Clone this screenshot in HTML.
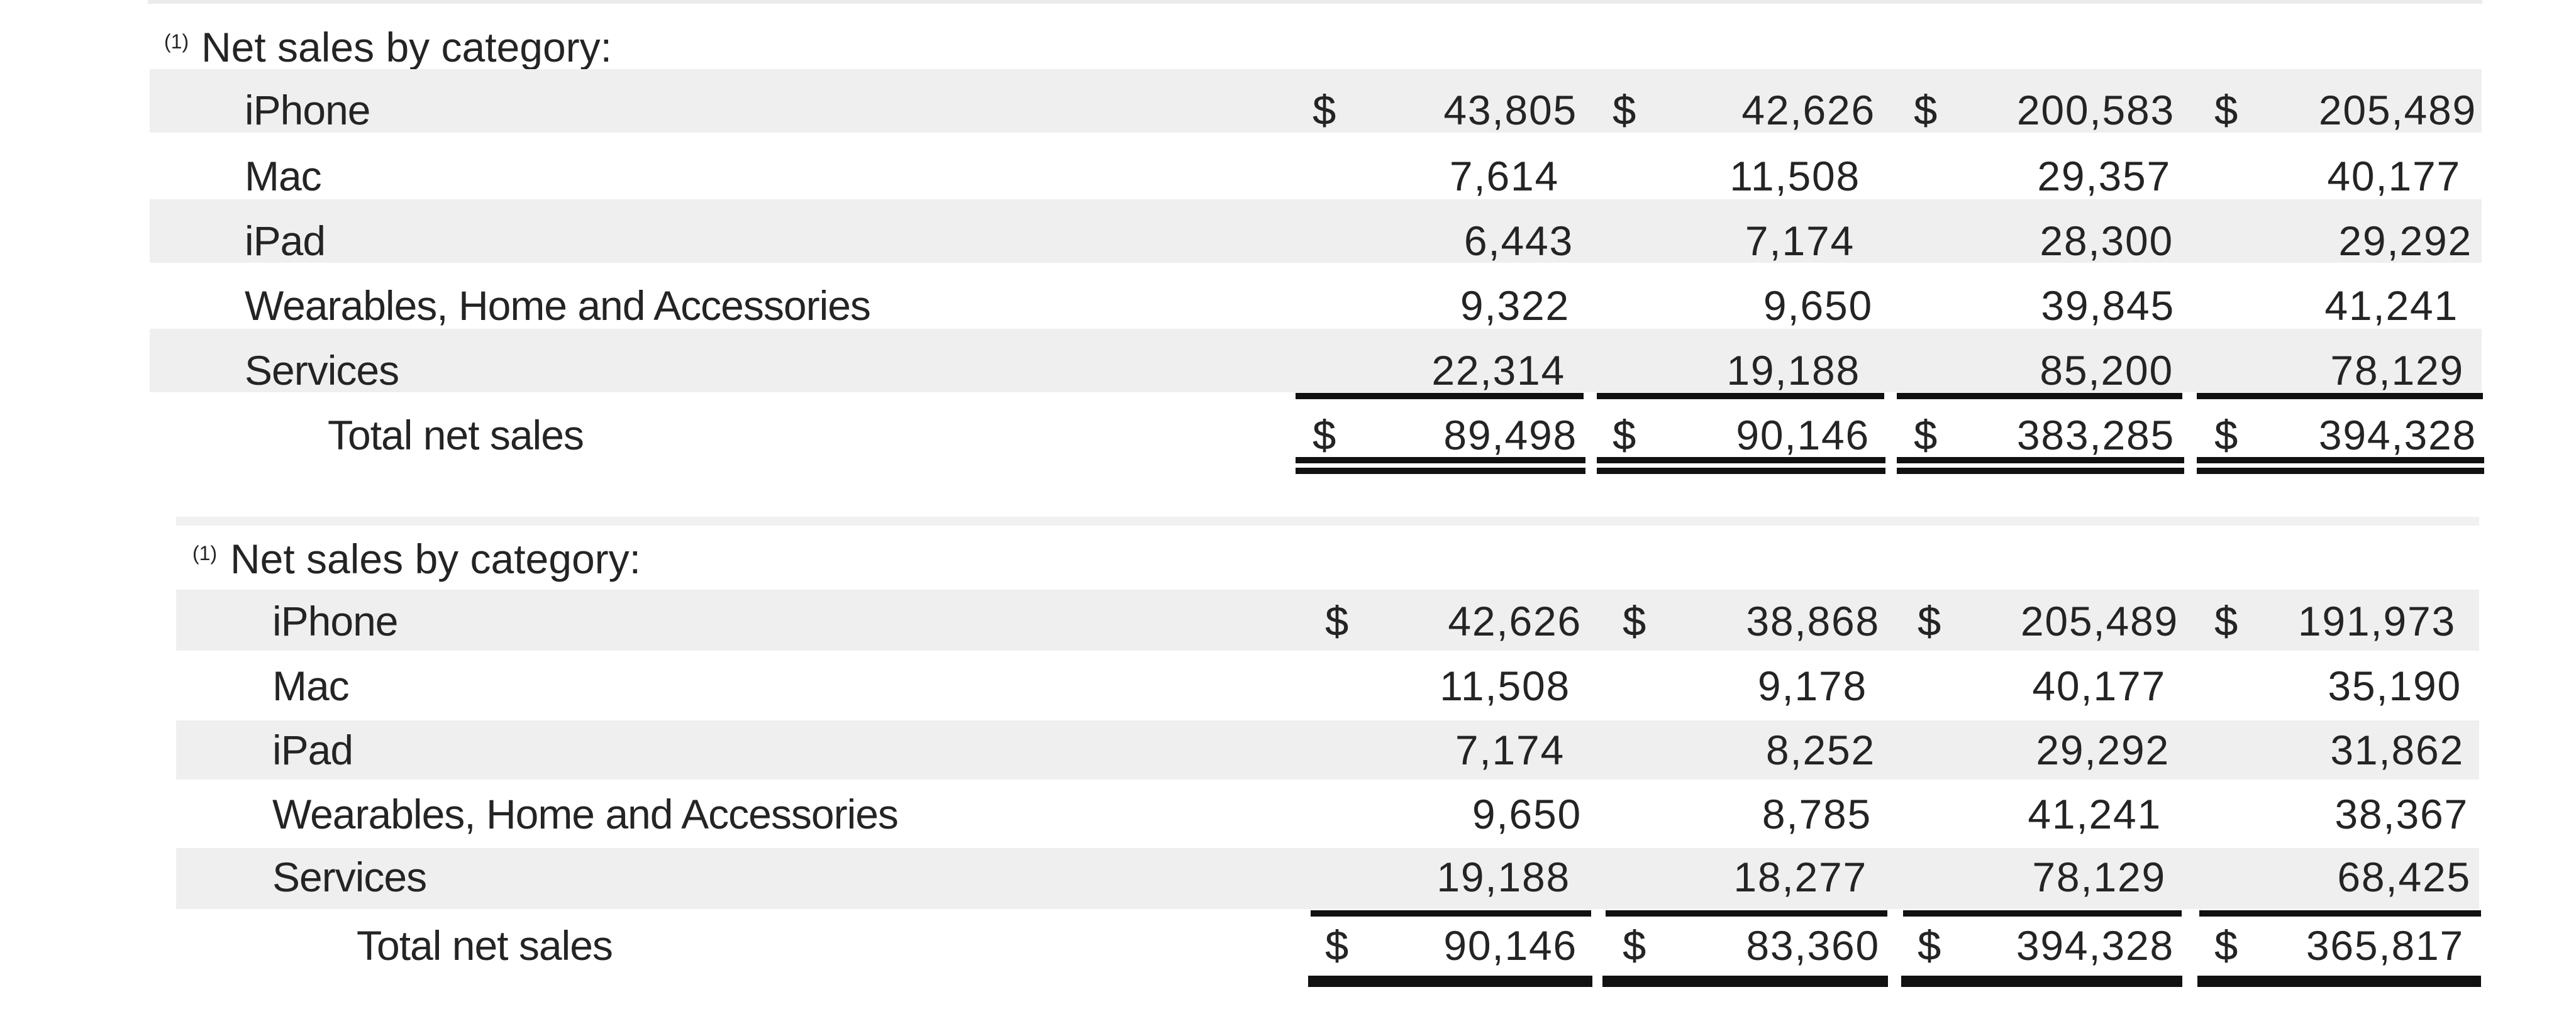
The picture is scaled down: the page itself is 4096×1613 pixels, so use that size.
<!DOCTYPE html>
<html>
<head>
<meta charset="utf-8">
<style>
  html, body { margin:0; padding:0; }
  body { width:4096px; height:1613px; background:#ffffff; position:relative; overflow:hidden;
         font-family:"Liberation Sans", Arial, sans-serif; color:#242424; }
  .band { position:absolute; background:#efefef; }
  .rule { position:absolute; background:#111111; }
  .t { position:absolute; font-size:66px; line-height:66px; white-space:nowrap; letter-spacing:-1px; }
  .h { position:absolute; font-size:66px; line-height:66px; white-space:nowrap; letter-spacing:0px; }
  .n { position:absolute; font-size:66px; line-height:66px; white-space:nowrap; letter-spacing:1.8px; text-align:right; }
  .d { position:absolute; font-size:66px; line-height:66px; white-space:nowrap; text-shadow:0.6px 0 0 #242424; }
  .sup { position:absolute; font-size:32px; line-height:32px; white-space:nowrap; }
</style>
</head>
<body>

<!-- top light line -->
<div class="band" style="left:235px; top:0px; width:3712px; height:6px; background:#ebebeb;"></div>

<!-- ===== Section 1 ===== -->
<div class="sup" style="left:261px; top:50px;">(1)</div>
<div class="h" style="left:320px; top:42px;">Net sales by category:</div>

<div class="band" style="left:238px; top:110px; width:3708px; height:101px;"></div>
<div class="band" style="left:238px; top:317px; width:3708px; height:101px;"></div>
<div class="band" style="left:238px; top:523px; width:3708px; height:101px;"></div>

<div class="t" style="left:389px; top:142px;">iPhone</div>
<div class="t" style="left:389px; top:247px;">Mac</div>
<div class="t" style="left:389px; top:350px;">iPad</div>
<div class="t" style="left:389px; top:453px;">Wearables, Home and Accessories</div>
<div class="t" style="left:389px; top:556px;">Services</div>
<div class="t" style="left:521px; top:659px;">Total net sales</div>

<!-- $ signs row iPhone -->
<div class="d" style="left:2087px; top:142px;">$</div>
<div class="d" style="left:2564px; top:142px;">$</div>
<div class="d" style="left:3043px; top:142px;">$</div>
<div class="d" style="left:3521px; top:142px;">$</div>

<!-- numbers section 1 -->
<div class="n" style="right:1588px; top:142px;">43,805</div>
<div class="n" style="right:1114px; top:142px;">42,626</div>
<div class="n" style="right:638px; top:142px;">200,583</div>
<div class="n" style="right:158px; top:142px;">205,489</div>

<div class="n" style="right:1617px; top:247px;">7,614</div>
<div class="n" style="right:1138px; top:247px;">11,508</div>
<div class="n" style="right:644px; top:247px;">29,357</div>
<div class="n" style="right:183px; top:247px;">40,177</div>

<div class="n" style="right:1594px; top:350px;">6,443</div>
<div class="n" style="right:1147px; top:350px;">7,174</div>
<div class="n" style="right:640px; top:350px;">28,300</div>
<div class="n" style="right:165px; top:350px;">29,292</div>

<div class="n" style="right:1600px; top:453px;">9,322</div>
<div class="n" style="right:1118px; top:453px;">9,650</div>
<div class="n" style="right:638px; top:453px;">39,845</div>
<div class="n" style="right:187px; top:453px;">41,241</div>

<div class="n" style="right:1607px; top:556px;">22,314</div>
<div class="n" style="right:1138px; top:556px;">19,188</div>
<div class="n" style="right:640px; top:556px;">85,200</div>
<div class="n" style="right:178px; top:556px;">78,129</div>

<!-- single underlines -->
<div class="rule" style="left:2060px; top:625px; width:458px; height:10px;"></div>
<div class="rule" style="left:2539px; top:625px; width:457px; height:10px;"></div>
<div class="rule" style="left:3016px; top:625px; width:454px; height:10px;"></div>
<div class="rule" style="left:3493px; top:625px; width:455px; height:10px;"></div>

<!-- totals section 1 -->
<div class="d" style="left:2087px; top:659px;">$</div>
<div class="d" style="left:2564px; top:659px;">$</div>
<div class="d" style="left:3043px; top:659px;">$</div>
<div class="d" style="left:3521px; top:659px;">$</div>
<div class="n" style="right:1588px; top:659px;">89,498</div>
<div class="n" style="right:1123px; top:659px;">90,146</div>
<div class="n" style="right:638px; top:659px;">383,285</div>
<div class="n" style="right:158px; top:659px;">394,328</div>

<!-- double underlines -->
<div class="rule" style="left:2060px; top:727px; width:461px; height:10px;"></div>
<div class="rule" style="left:2539px; top:727px; width:459px; height:10px;"></div>
<div class="rule" style="left:3016px; top:727px; width:457px; height:10px;"></div>
<div class="rule" style="left:3493px; top:727px; width:457px; height:10px;"></div>
<div class="rule" style="left:2060px; top:744px; width:461px; height:10px;"></div>
<div class="rule" style="left:2539px; top:744px; width:459px; height:10px;"></div>
<div class="rule" style="left:3016px; top:744px; width:457px; height:10px;"></div>
<div class="rule" style="left:3493px; top:744px; width:457px; height:10px;"></div>

<!-- ===== Section 2 ===== -->
<div class="band" style="left:280px; top:822px; width:3662px; height:14px; background:#f1f1f1;"></div>

<div class="sup" style="left:306px; top:864px;">(1)</div>
<div class="h" style="left:366px; top:856px;">Net sales by category:</div>

<div class="band" style="left:280px; top:938px; width:3662px; height:97px;"></div>
<div class="band" style="left:280px; top:1146px; width:3662px; height:94px;"></div>
<div class="band" style="left:280px; top:1349px; width:3662px; height:97px;"></div>

<div class="t" style="left:433px; top:955px;">iPhone</div>
<div class="t" style="left:433px; top:1058px;">Mac</div>
<div class="t" style="left:433px; top:1160px;">iPad</div>
<div class="t" style="left:433px; top:1262px;">Wearables, Home and Accessories</div>
<div class="t" style="left:433px; top:1362px;">Services</div>
<div class="t" style="left:567px; top:1471px;">Total net sales</div>

<div class="d" style="left:2107px; top:955px;">$</div>
<div class="d" style="left:2580px; top:955px;">$</div>
<div class="d" style="left:3049px; top:955px;">$</div>
<div class="d" style="left:3521px; top:955px;">$</div>

<div class="n" style="right:1581px; top:955px;">42,626</div>
<div class="n" style="right:1107px; top:955px;">38,868</div>
<div class="n" style="right:632px; top:955px;">205,489</div>
<div class="n" style="right:191px; top:955px;">191,973</div>

<div class="n" style="right:1599px; top:1058px;">11,508</div>
<div class="n" style="right:1127px; top:1058px;">9,178</div>
<div class="n" style="right:652px; top:1058px;">40,177</div>
<div class="n" style="right:182px; top:1058px;">35,190</div>

<div class="n" style="right:1608px; top:1160px;">7,174</div>
<div class="n" style="right:1114px; top:1160px;">8,252</div>
<div class="n" style="right:646px; top:1160px;">29,292</div>
<div class="n" style="right:178px; top:1160px;">31,862</div>

<div class="n" style="right:1581px; top:1262px;">9,650</div>
<div class="n" style="right:1120px; top:1262px;">8,785</div>
<div class="n" style="right:659px; top:1262px;">41,241</div>
<div class="n" style="right:171px; top:1262px;">38,367</div>

<div class="n" style="right:1599px; top:1362px;">19,188</div>
<div class="n" style="right:1127px; top:1362px;">18,277</div>
<div class="n" style="right:652px; top:1362px;">78,129</div>
<div class="n" style="right:167px; top:1362px;">68,425</div>

<!-- single underlines section 2 -->
<div class="rule" style="left:2084px; top:1448px; width:446px; height:10px;"></div>
<div class="rule" style="left:2553px; top:1448px; width:448px; height:10px;"></div>
<div class="rule" style="left:3026px; top:1448px; width:443px; height:10px;"></div>
<div class="rule" style="left:3497px; top:1448px; width:448px; height:10px;"></div>

<!-- totals section 2 -->
<div class="d" style="left:2107px; top:1471px;">$</div>
<div class="d" style="left:2580px; top:1471px;">$</div>
<div class="d" style="left:3049px; top:1471px;">$</div>
<div class="d" style="left:3521px; top:1471px;">$</div>
<div class="n" style="right:1588px; top:1471px;">90,146</div>
<div class="n" style="right:1107px; top:1471px;">83,360</div>
<div class="n" style="right:639px; top:1471px;">394,328</div>
<div class="n" style="right:178px; top:1471px;">365,817</div>

<!-- bottom thick rule section 2 -->
<div class="rule" style="left:2080px; top:1552px; width:452px; height:18px;"></div>
<div class="rule" style="left:2548px; top:1552px; width:454px; height:18px;"></div>
<div class="rule" style="left:3023px; top:1552px; width:447px; height:18px;"></div>
<div class="rule" style="left:3494px; top:1552px; width:451px; height:18px;"></div>

</body>
</html>
